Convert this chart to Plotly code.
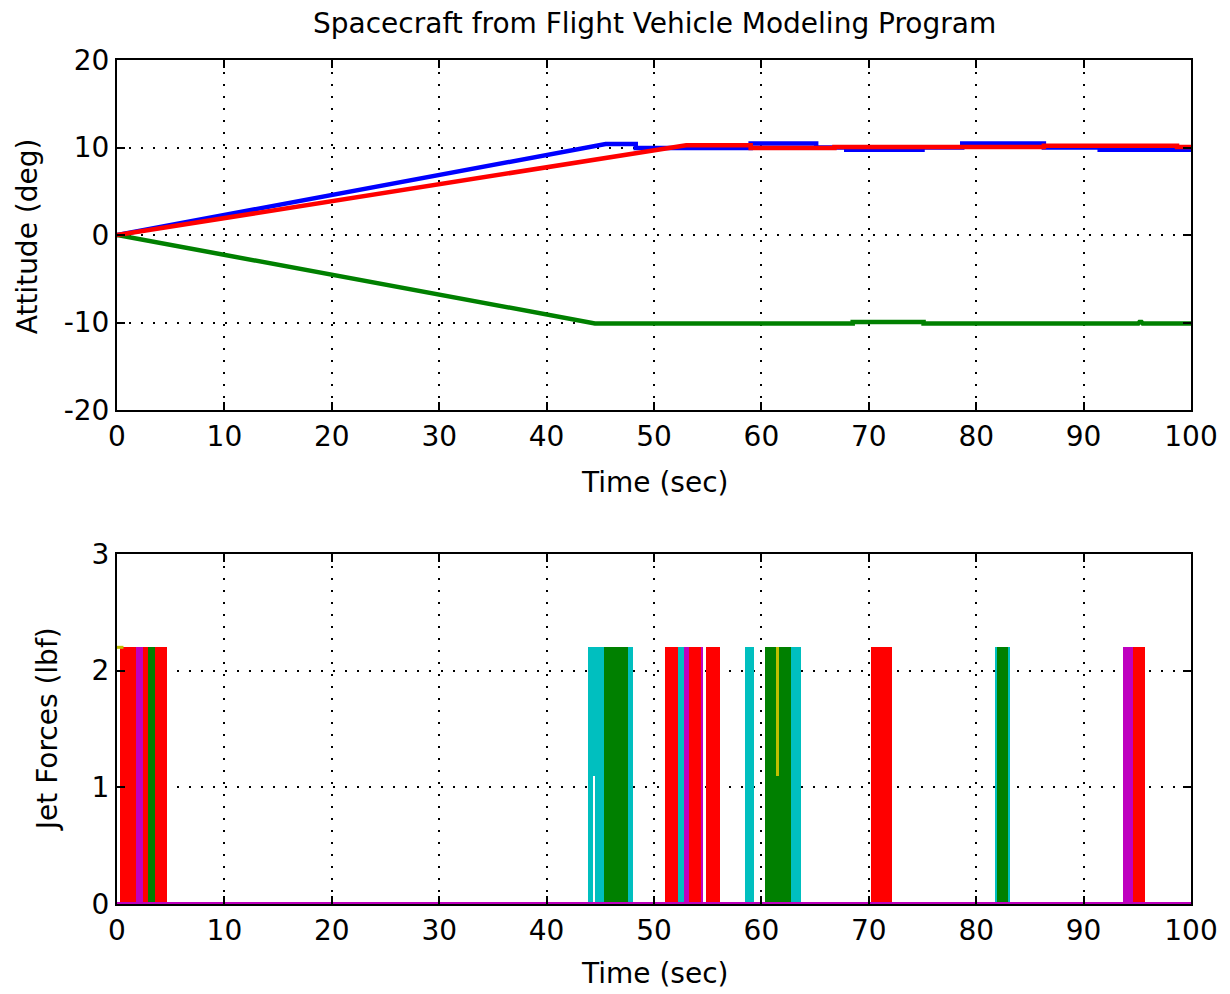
import plotly.graph_objects as go

# ---------------- data: attitude (deg) ----------------
blue_t = [0, 45.5, 48.3, 48.3, 59.0, 59.0, 65.1, 65.1, 67.9, 67.9, 75.0, 75.0, 78.7, 78.7, 86.3, 86.3, 91.5, 91.5, 100]
blue_v = [0, 10.4, 10.4, 9.95, 9.95, 10.45, 10.45, 10.0, 10.0, 9.75, 9.75, 10.0, 10.0, 10.45, 10.45, 10.0, 10.0, 9.75, 9.75]

red_t = [0, 45.0, 52.3, 53.0, 59.0, 59.0, 66.8, 66.8, 86.3, 86.3, 98.7, 98.7, 100]
red_v = [0, 8.6, 10.0, 10.25, 10.25, 9.95, 9.95, 10.05, 10.05, 10.2, 10.2, 10.05, 10.05]

green_t = [0, 44.5, 68.5, 68.5, 75.1, 75.1, 95.1, 95.2, 95.4, 95.5, 100]
green_v = [0, -10.1, -10.1, -9.95, -9.95, -10.1, -10.1, -9.95, -9.95, -10.1, -10.1]

# ---------------- data: jet forces (lbf) ----------------
JET = 2.2
red_on = [(0.3, 1.76), (2.4, 2.85), (3.5, 4.67), (51.0, 52.2), (53.3, 54.4), (54.8, 56.1), (70.2, 72.2), (94.6, 95.75)]
magenta_on = [(1.76, 2.4), (52.8, 53.3), (54.4, 54.6), (93.7, 94.6)]
green_on = [(2.85, 3.5), (45.3, 47.6), (60.3, 62.8), (81.9, 83.0)]
cyan_on = [(43.9, 45.3), (47.6, 48.0), (52.2, 52.8), (58.5, 59.3), (62.8, 63.7), (81.75, 81.9), (83.0, 83.15)]
yellow_on = [(61.45, 61.6)]
yellow_base = 1.1
gap_off = [(44.35, 44.5)]
gap_top = 1.1
zero_t = [0, 100]
zero_v = [0, 0]

x_ticks = list(range(0, 101, 10))
att_ticks = [-20, -10, 0, 10, 20]
att_labels = ["-20", "-10", "0", "10", "20"]
jet_ticks = [0, 1, 2, 3]

RED = "#FF0000"; GREEN = "#008000"; BLUE = "#0000FF"
CYAN = "#00BFBF"; MAGENTA = "#BF00BF"; YELLOW = "#BFBF00"

FONT = "DejaVu Sans"
FS = 28

fig = go.Figure()

# top subplot lines
fig.add_trace(go.Scatter(x=blue_t, y=blue_v, mode="lines", line=dict(color=BLUE, width=4.5),
                         xaxis="x", yaxis="y", showlegend=False))
fig.add_trace(go.Scatter(x=green_t, y=green_v, mode="lines", line=dict(color=GREEN, width=4.5),
                         xaxis="x", yaxis="y", showlegend=False))
fig.add_trace(go.Scatter(x=red_t, y=red_v, mode="lines", line=dict(color=RED, width=4.5),
                         xaxis="x", yaxis="y", showlegend=False))


def bar_trace(segs, color, height, base=0):
    xs = [(a + b) / 2 for a, b in segs]
    ws = [b - a for a, b in segs]
    return go.Bar(x=xs, y=[height] * len(segs), width=ws, base=[base] * len(segs),
                  marker=dict(color=color, line=dict(width=0)),
                  xaxis="x2", yaxis="y2", showlegend=False)


fig.add_trace(bar_trace(red_on, RED, JET))
fig.add_trace(bar_trace(magenta_on, MAGENTA, JET))
fig.add_trace(bar_trace(green_on, GREEN, JET))
fig.add_trace(bar_trace(cyan_on, CYAN, JET))
fig.add_trace(bar_trace(gap_off, "#FFFFFF", gap_top))
fig.add_trace(bar_trace(yellow_on, YELLOW, JET - yellow_base, base=yellow_base))
fig.add_trace(go.Scatter(x=[0, 0.6], y=[JET, JET], mode="lines", line=dict(color=YELLOW, width=3),
                         xaxis="x2", yaxis="y2", showlegend=False))
fig.add_trace(go.Scatter(x=zero_t, y=zero_v, mode="lines", line=dict(color=MAGENTA, width=4),
                         xaxis="x2", yaxis="y2", showlegend=False, cliponaxis=False))

axis_common = dict(
    showline=True, linecolor="black", linewidth=2, mirror="ticks",
    ticks="inside", ticklen=8, tickwidth=2, tickcolor="black",
    showgrid=True, gridcolor="black", gridwidth=2, griddash="2px,10px",
    zeroline=False,
    tickfont=dict(family=FONT, size=FS, color="black"),
)

top_dom = [(904 - 410) / 844, 1.0]
bot_dom = [0.0, (904 - 554) / 844]

fig.update_layout(
    width=1230, height=994,
    margin=dict(l=117, r=36, t=60, b=90),
    paper_bgcolor="white", plot_bgcolor="white",
    barmode="overlay", bargap=0,
    font=dict(family=FONT, size=FS, color="black"),
    xaxis=dict(domain=[0, 1], range=[0, 100], tickvals=x_ticks, anchor="y", **axis_common),
    yaxis=dict(domain=top_dom, range=[-20, 20], tickvals=att_ticks, ticktext=att_labels, anchor="x", **axis_common),
    xaxis2=dict(domain=[0, 1], range=[0, 100], tickvals=x_ticks, anchor="y2", **axis_common),
    yaxis2=dict(domain=bot_dom, range=[0, 3], tickvals=jet_ticks, anchor="x2", **axis_common),
    annotations=[
        dict(text="Spacecraft from Flight Vehicle Modeling Program", xref="paper", yref="paper",
             x=0.5, y=(904 - 24) / 844, xanchor="center", yanchor="middle", showarrow=False,
             font=dict(family=FONT, size=FS)),
        dict(text="Time (sec)", xref="paper", yref="paper", x=0.5, y=(904 - 482) / 844,
             xanchor="center", yanchor="middle", showarrow=False, font=dict(family=FONT, size=FS)),
        dict(text="Time (sec)", xref="paper", yref="paper", x=0.5, y=(904 - 974) / 844,
             xanchor="center", yanchor="middle", showarrow=False, font=dict(family=FONT, size=FS)),
        dict(text="Attitude (deg)", xref="paper", yref="paper", x=(27 - 117) / 1077, y=(904 - 236) / 844,
             xanchor="center", yanchor="middle", textangle=-90, showarrow=False,
             font=dict(family=FONT, size=FS)),
        dict(text="Jet Forces (lbf)", xref="paper", yref="paper", x=(47 - 117) / 1077, y=(904 - 729) / 844,
             xanchor="center", yanchor="middle", textangle=-90, showarrow=False,
             font=dict(family=FONT, size=FS)),
    ],
)

fig.write_html("out.html")
